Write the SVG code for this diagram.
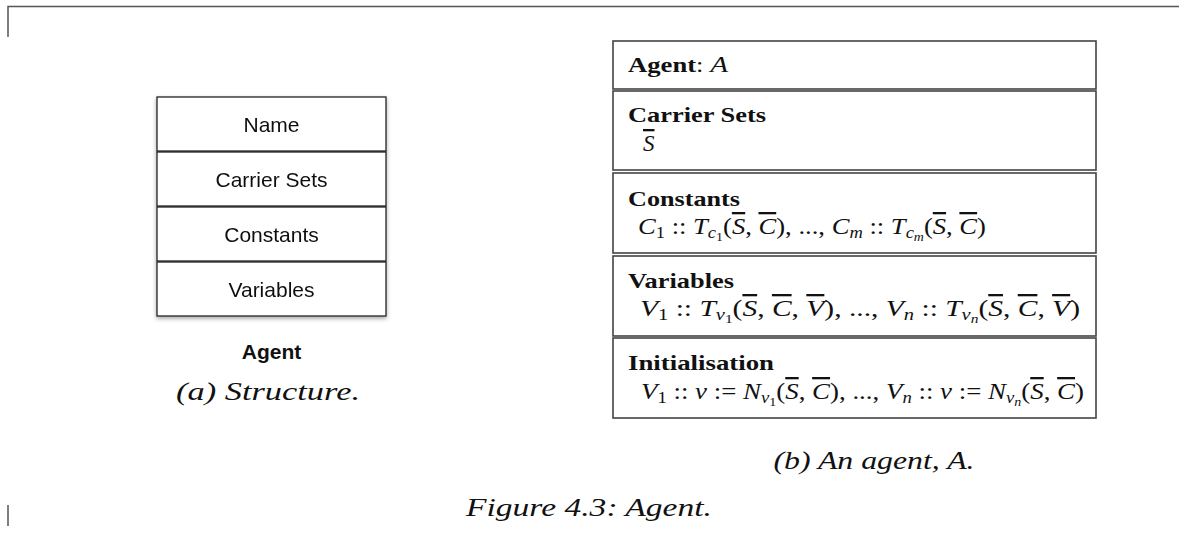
<svg xmlns="http://www.w3.org/2000/svg" width="1179" height="533" viewBox="0 0 1179 533">
  <style>
    .frame { fill: none; stroke: #555; stroke-width: 1.5; }
    .sbox { fill: #fff; stroke: #222; stroke-width: 1.3; }
    .abox { fill: #fff; stroke: #444; stroke-width: 1.6; }
    .lbl { font-family: "Liberation Sans", Arial, sans-serif; font-size: 21px; fill: #111; text-anchor: middle; }
    .lblb { font-family: "Liberation Sans", Arial, sans-serif; font-size: 21px; font-weight: bold; fill: #111; text-anchor: middle; }
    .hd { font-family: "Liberation Serif", "Times New Roman", serif; font-size: 21px; font-weight: bold; fill: #111; }
    .m { font-family: "Liberation Serif", "Times New Roman", serif; font-size: 23px; fill: #111; }
    .i { font-style: italic; }
    .ov { text-decoration: overline; }
    .s1 { font-size: 16px; }
    .s2 { font-size: 12px; }
    .cap { font-family: "Liberation Serif", "Times New Roman", serif; font-size: 26px; font-style: italic; fill: #111; text-anchor: middle; }
  </style>
  <defs>
    <filter id="shadow" x="-10%" y="-10%" width="120%" height="130%">
      <feDropShadow dx="0" dy="2" stdDeviation="2" flood-color="#000" flood-opacity="0.35"/>
    </filter>
  </defs>
  <rect width="1179" height="533" fill="#fff"/>

  <!-- page frame marks -->
  <path class="frame" d="M8,37 V6.5 H1179"/>
  <path class="frame" d="M8,505 V526"/>

  <!-- (a) structure stack -->
  <g id="structure" filter="url(#shadow)">
    <g id="s-name"><rect class="sbox" x="157" y="97" width="229" height="54"/><text class="lbl" x="271.5" y="132">Name</text></g>
    <g id="s-carrier"><rect class="sbox" x="157" y="152" width="229" height="54"/><text class="lbl" x="271.5" y="187">Carrier Sets</text></g>
    <g id="s-constants"><rect class="sbox" x="157" y="207" width="229" height="54"/><text class="lbl" x="271.5" y="242">Constants</text></g>
    <g id="s-variables"><rect class="sbox" x="157" y="262" width="229" height="54"/><text class="lbl" x="271.5" y="297">Variables</text></g>
  </g>
  <text id="s-title" class="lblb" x="271.5" y="359">Agent</text>
  <text id="cap-a" class="cap" x="268" y="400" textLength="184" lengthAdjust="spacingAndGlyphs">(a) Structure.</text>

  <!-- (b) agent A -->
  <g id="a-name">
    <rect class="abox" x="613" y="41" width="483" height="48"/>
    <text class="hd" x="628" y="72" textLength="100" lengthAdjust="spacingAndGlyphs"><tspan>Agent</tspan><tspan font-weight="normal">: </tspan><tspan font-weight="normal" class="i" font-size="23">A</tspan></text>
  </g>
  <g id="a-carrier">
    <rect class="abox" x="613" y="91" width="483" height="79"/>
    <text class="hd" x="628" y="122" textLength="138" lengthAdjust="spacingAndGlyphs">Carrier Sets</text>
    <text class="m" x="643" y="151"><tspan class="i ov">S</tspan></text>
  </g>
  <g id="a-constants">
    <rect class="abox" x="613" y="173" width="483" height="80"/>
    <text class="hd" x="628" y="206" textLength="112" lengthAdjust="spacingAndGlyphs">Constants</text>
    <text class="m" x="638" y="234" textLength="348" lengthAdjust="spacingAndGlyphs"><tspan class="i">C</tspan><tspan class="s1" dy="4">1</tspan><tspan dy="-4"> :: </tspan><tspan class="i">T</tspan><tspan class="i s1" dy="4">c</tspan><tspan class="s2" dy="3">1</tspan><tspan dy="-7">(</tspan><tspan class="i ov">S</tspan><tspan>, </tspan><tspan class="i ov">C</tspan><tspan>), ..., </tspan><tspan class="i">C</tspan><tspan class="i s1" dy="4">m</tspan><tspan dy="-4"> :: </tspan><tspan class="i">T</tspan><tspan class="i s1" dy="4">c</tspan><tspan class="i s2" dy="3">m</tspan><tspan dy="-7">(</tspan><tspan class="i ov">S</tspan><tspan>, </tspan><tspan class="i ov">C</tspan><tspan>)</tspan></text>
  </g>
  <g id="a-variables">
    <rect class="abox" x="613" y="256" width="483" height="80"/>
    <text class="hd" x="628" y="288" textLength="106" lengthAdjust="spacingAndGlyphs">Variables</text>
    <text class="m" x="640" y="316" textLength="440" lengthAdjust="spacingAndGlyphs"><tspan class="i">V</tspan><tspan class="s1" dy="4">1</tspan><tspan dy="-4"> :: </tspan><tspan class="i">T</tspan><tspan class="i s1" dy="4">v</tspan><tspan class="s2" dy="3">1</tspan><tspan dy="-7">(</tspan><tspan class="i ov">S</tspan><tspan>, </tspan><tspan class="i ov">C</tspan><tspan>, </tspan><tspan class="i ov">V</tspan><tspan>), ..., </tspan><tspan class="i">V</tspan><tspan class="i s1" dy="4">n</tspan><tspan dy="-4"> :: </tspan><tspan class="i">T</tspan><tspan class="i s1" dy="4">v</tspan><tspan class="i s2" dy="3">n</tspan><tspan dy="-7">(</tspan><tspan class="i ov">S</tspan><tspan>, </tspan><tspan class="i ov">C</tspan><tspan>, </tspan><tspan class="i ov">V</tspan><tspan>)</tspan></text>
  </g>
  <g id="a-init">
    <rect class="abox" x="613" y="338" width="483" height="80"/>
    <text class="hd" x="628" y="370" textLength="146" lengthAdjust="spacingAndGlyphs">Initialisation</text>
    <text class="m" x="641" y="399" textLength="443" lengthAdjust="spacingAndGlyphs"><tspan class="i">V</tspan><tspan class="s1" dy="4">1</tspan><tspan dy="-4"> :: </tspan><tspan class="i">v</tspan><tspan> := </tspan><tspan class="i">N</tspan><tspan class="i s1" dy="4">v</tspan><tspan class="s2" dy="3">1</tspan><tspan dy="-7">(</tspan><tspan class="i ov">S</tspan><tspan>, </tspan><tspan class="i ov">C</tspan><tspan>), ..., </tspan><tspan class="i">V</tspan><tspan class="i s1" dy="4">n</tspan><tspan dy="-4"> :: </tspan><tspan class="i">v</tspan><tspan> := </tspan><tspan class="i">N</tspan><tspan class="i s1" dy="4">v</tspan><tspan class="i s2" dy="3">n</tspan><tspan dy="-7">(</tspan><tspan class="i ov">S</tspan><tspan>, </tspan><tspan class="i ov">C</tspan><tspan>)</tspan></text>
  </g>
  <text id="cap-b" class="cap" x="874" y="469" textLength="201" lengthAdjust="spacingAndGlyphs">(b) An agent, A.</text>

  <text id="cap-fig" class="cap" x="589" y="516" textLength="246" lengthAdjust="spacingAndGlyphs">Figure 4.3: Agent.</text>
</svg>
